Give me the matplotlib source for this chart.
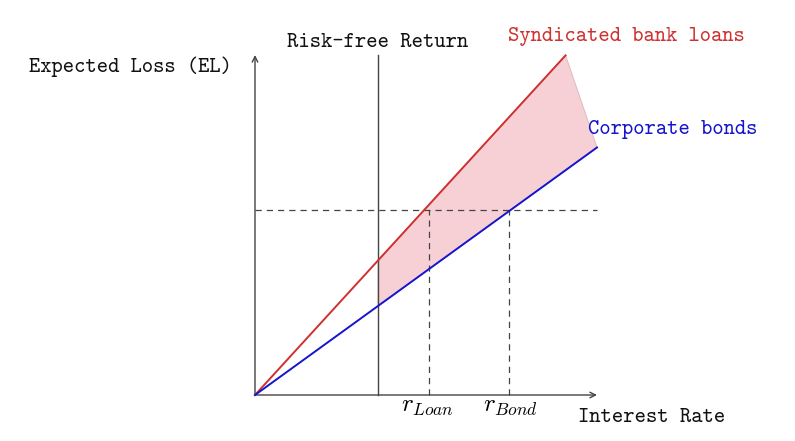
import matplotlib.pyplot as plt
import numpy as np
from matplotlib.patches import Polygon

# curve / marker values (x in rate units, y in EL units)
risk_free = 3.6
r_loan = 5.08
r_bond = 7.42
el_level = 5.45
loan_slope = 1.1
bond_slope = 0.728
loan_end = 9.08
bond_end = 10.0
x_max = 10.0
y_max = 10.0

red = '#cf3030'
blue = '#1515cc'
pink = '#f7d0d5'
axis_col = '#444444'
mono = ['cmtt10', 'DejaVu Sans Mono']
plt.rcParams['mathtext.fontset'] = 'cm'

fig = plt.figure(figsize=(7.95, 4.41), dpi=100)
ax = fig.add_axes([0, 0, 1, 1])
ax.set_xlim(-255 / 34.2, (795 - 255) / 34.2)
ax.set_ylim(-46 / 34.0, 395 / 34.0)
ax.axis('off')

# shaded gap between the two lines, right of the risk-free rate
poly = [(risk_free, loan_slope * risk_free),
        (loan_end, loan_slope * loan_end),
        (bond_end, bond_slope * bond_end),
        (risk_free, bond_slope * risk_free)]
ax.add_patch(Polygon(poly, closed=True, facecolor=pink, edgecolor='#dcc0c4', lw=0.8, zorder=1))

# axes with arrows
ax.annotate('', xy=(x_max, 0), xytext=(0, 0),
            arrowprops=dict(arrowstyle='->', color=axis_col, lw=1.0, shrinkA=0, shrinkB=0))
ax.annotate('', xy=(0, y_max), xytext=(0, 0),
            arrowprops=dict(arrowstyle='->', color=axis_col, lw=1.0, shrinkA=0, shrinkB=0))

# risk-free vertical line
ax.plot([risk_free, risk_free], [0, y_max], color=axis_col, lw=1.0, zorder=2)

# dashed guides
ax.plot([0, x_max], [el_level, el_level], color=axis_col, lw=0.9, ls=(0, (5, 4)), zorder=2)
ax.plot([r_loan, r_loan], [0, el_level], color=axis_col, lw=0.9, ls=(0, (5, 4)), zorder=2)
ax.plot([r_bond, r_bond], [0, el_level], color=axis_col, lw=0.9, ls=(0, (5, 4)), zorder=2)

# lines
xs = np.array([0, loan_end])
ax.plot(xs, loan_slope * xs, color=red, lw=1.4, zorder=3)
xs = np.array([0, bond_end])
ax.plot(xs, bond_slope * xs, color=blue, lw=1.4, zorder=3)

# labels
fs = 15.5
ax.text(risk_free, 10.24, 'Risk-free Return', family=mono, fontsize=fs,
        ha='center', va='baseline', color='#111111')
ax.text(7.40, 10.41, 'Syndicated bank loans', family=mono, fontsize=fs,
        ha='left', va='baseline', color=red)
ax.text(9.74, 7.68, 'Corporate bonds', family=mono, fontsize=fs,
        ha='left', va='baseline', color=blue)
ax.text(-0.67, 9.51, 'Expected Loss (EL)', family=mono, fontsize=fs,
        ha='right', va='baseline', color='#111111')
ax.text(9.44, -0.80, 'Interest Rate', family=mono, fontsize=fs,
        ha='left', va='baseline', color='#111111')
ax.text(r_loan - 0.05, -0.5, r'$r_{Loan}$', fontsize=18, ha='center', va='baseline')
ax.text(r_bond + 0.05, -0.5, r'$r_{Bond}$', fontsize=18, ha='center', va='baseline')

fig.savefig('out.png', dpi=100)
